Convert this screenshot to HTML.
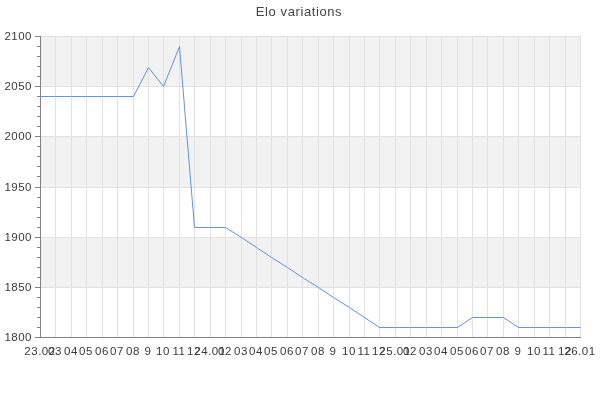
<!DOCTYPE html>
<html><head><meta charset="utf-8"><style>
html,body{margin:0;padding:0;background:#fff;}
body{width:600px;height:400px;position:relative;overflow:hidden;font-family:"Liberation Sans",sans-serif;}
svg{position:absolute;left:0;top:0;}
.t,.yl,.xl{will-change:transform;}
.t{position:absolute;left:-1px;width:600px;top:4px;text-align:center;font-size:13px;line-height:16px;color:#444;letter-spacing:0.6px;}
.yl{position:absolute;left:0;width:32px;text-align:right;font-size:11.5px;line-height:14px;color:#3a3a3a;letter-spacing:0.5px;}
.xl{position:absolute;top:344px;width:60px;text-align:center;font-size:11.5px;line-height:14px;color:#3a3a3a;letter-spacing:0.5px;}
</style></head><body>
<svg width="600" height="400" viewBox="0 0 600 400">
<g shape-rendering="crispEdges">
<rect x="41" y="37" width="540" height="49" fill="#f2f2f2"/>
<rect x="41" y="137" width="540" height="50" fill="#f2f2f2"/>
<rect x="41" y="238" width="540" height="49" fill="#f2f2f2"/>
<rect x="41" y="36" width="540" height="1" fill="#e2e2e2"/>
<rect x="41" y="86" width="540" height="1" fill="#e2e2e2"/>
<rect x="41" y="136" width="540" height="1" fill="#e2e2e2"/>
<rect x="41" y="187" width="540" height="1" fill="#e2e2e2"/>
<rect x="41" y="237" width="540" height="1" fill="#e2e2e2"/>
<rect x="41" y="287" width="540" height="1" fill="#e2e2e2"/>
<rect x="55" y="36" width="1" height="301" fill="#e2e2e2"/>
<rect x="71" y="36" width="1" height="301" fill="#e2e2e2"/>
<rect x="86" y="36" width="1" height="301" fill="#e2e2e2"/>
<rect x="102" y="36" width="1" height="301" fill="#e2e2e2"/>
<rect x="117" y="36" width="1" height="301" fill="#e2e2e2"/>
<rect x="133" y="36" width="1" height="301" fill="#e2e2e2"/>
<rect x="148" y="36" width="1" height="301" fill="#e2e2e2"/>
<rect x="163" y="36" width="1" height="301" fill="#e2e2e2"/>
<rect x="179" y="36" width="1" height="301" fill="#e2e2e2"/>
<rect x="194" y="36" width="1" height="301" fill="#e2e2e2"/>
<rect x="210" y="36" width="1" height="301" fill="#e2e2e2"/>
<rect x="225" y="36" width="1" height="301" fill="#e2e2e2"/>
<rect x="241" y="36" width="1" height="301" fill="#e2e2e2"/>
<rect x="256" y="36" width="1" height="301" fill="#e2e2e2"/>
<rect x="271" y="36" width="1" height="301" fill="#e2e2e2"/>
<rect x="287" y="36" width="1" height="301" fill="#e2e2e2"/>
<rect x="302" y="36" width="1" height="301" fill="#e2e2e2"/>
<rect x="318" y="36" width="1" height="301" fill="#e2e2e2"/>
<rect x="333" y="36" width="1" height="301" fill="#e2e2e2"/>
<rect x="349" y="36" width="1" height="301" fill="#e2e2e2"/>
<rect x="364" y="36" width="1" height="301" fill="#e2e2e2"/>
<rect x="379" y="36" width="1" height="301" fill="#e2e2e2"/>
<rect x="395" y="36" width="1" height="301" fill="#e2e2e2"/>
<rect x="410" y="36" width="1" height="301" fill="#e2e2e2"/>
<rect x="426" y="36" width="1" height="301" fill="#e2e2e2"/>
<rect x="441" y="36" width="1" height="301" fill="#e2e2e2"/>
<rect x="457" y="36" width="1" height="301" fill="#e2e2e2"/>
<rect x="472" y="36" width="1" height="301" fill="#e2e2e2"/>
<rect x="487" y="36" width="1" height="301" fill="#e2e2e2"/>
<rect x="503" y="36" width="1" height="301" fill="#e2e2e2"/>
<rect x="518" y="36" width="1" height="301" fill="#e2e2e2"/>
<rect x="534" y="36" width="1" height="301" fill="#e2e2e2"/>
<rect x="549" y="36" width="1" height="301" fill="#e2e2e2"/>
<rect x="565" y="36" width="1" height="301" fill="#e2e2e2"/>
<rect x="580" y="36" width="1" height="301" fill="#e2e2e2"/>
<rect x="40" y="36" width="1" height="302" fill="#828282"/>
<rect x="35" y="337" width="546" height="1" fill="#828282"/>
<rect x="35" y="36" width="5" height="1" fill="#828282"/>
<rect x="37" y="46" width="3" height="1" fill="#828282"/>
<rect x="37" y="56" width="3" height="1" fill="#828282"/>
<rect x="37" y="66" width="3" height="1" fill="#828282"/>
<rect x="37" y="76" width="3" height="1" fill="#828282"/>
<rect x="35" y="86" width="5" height="1" fill="#828282"/>
<rect x="37" y="96" width="3" height="1" fill="#828282"/>
<rect x="37" y="106" width="3" height="1" fill="#828282"/>
<rect x="37" y="116" width="3" height="1" fill="#828282"/>
<rect x="37" y="126" width="3" height="1" fill="#828282"/>
<rect x="35" y="136" width="5" height="1" fill="#828282"/>
<rect x="37" y="146" width="3" height="1" fill="#828282"/>
<rect x="37" y="156" width="3" height="1" fill="#828282"/>
<rect x="37" y="166" width="3" height="1" fill="#828282"/>
<rect x="37" y="176" width="3" height="1" fill="#828282"/>
<rect x="35" y="187" width="5" height="1" fill="#828282"/>
<rect x="37" y="197" width="3" height="1" fill="#828282"/>
<rect x="37" y="207" width="3" height="1" fill="#828282"/>
<rect x="37" y="217" width="3" height="1" fill="#828282"/>
<rect x="37" y="227" width="3" height="1" fill="#828282"/>
<rect x="35" y="237" width="5" height="1" fill="#828282"/>
<rect x="37" y="247" width="3" height="1" fill="#828282"/>
<rect x="37" y="257" width="3" height="1" fill="#828282"/>
<rect x="37" y="267" width="3" height="1" fill="#828282"/>
<rect x="37" y="277" width="3" height="1" fill="#828282"/>
<rect x="35" y="287" width="5" height="1" fill="#828282"/>
<rect x="37" y="297" width="3" height="1" fill="#828282"/>
<rect x="37" y="307" width="3" height="1" fill="#828282"/>
<rect x="37" y="317" width="3" height="1" fill="#828282"/>
<rect x="37" y="327" width="3" height="1" fill="#828282"/>
<rect x="35" y="337" width="5" height="1" fill="#828282"/>
</g>
<polyline points="40.5,96.5 55.5,96.5 71.5,96.5 86.5,96.5 102.5,96.5 117.5,96.5 133.5,96.5 148.5,67.5 163.5,86.5 179.5,46.5 194.5,227.5 210.5,227.5 225.5,227.5 241.5,237.5 256.5,247.5 271.5,257.5 287.5,267.5 302.5,277.5 318.5,287.5 333.5,297.5 349.5,307.5 364.5,317.5 379.5,327.5 395.5,327.5 410.5,327.5 426.5,327.5 441.5,327.5 457.5,327.5 472.5,317.5 487.5,317.5 503.5,317.5 518.5,327.5 534.5,327.5 549.5,327.5 565.5,327.5 580.5,327.5" fill="none" stroke="#5f92ea" stroke-width="1" stroke-linejoin="miter"/>
</svg>
<div class="t">Elo variations</div>
<div class="yl" style="top:29px">2100</div>
<div class="yl" style="top:79px">2050</div>
<div class="yl" style="top:129px">2000</div>
<div class="yl" style="top:180px">1950</div>
<div class="yl" style="top:230px">1900</div>
<div class="yl" style="top:280px">1850</div>
<div class="yl" style="top:330px">1800</div>
<div class="xl" style="left:10.00px">23.02</div>
<div class="xl" style="left:25.43px">03</div>
<div class="xl" style="left:40.86px">04</div>
<div class="xl" style="left:56.29px">05</div>
<div class="xl" style="left:71.71px">06</div>
<div class="xl" style="left:87.14px">07</div>
<div class="xl" style="left:102.57px">08</div>
<div class="xl" style="left:118.00px">9</div>
<div class="xl" style="left:133.43px">10</div>
<div class="xl" style="left:148.86px">11</div>
<div class="xl" style="left:164.29px">12</div>
<div class="xl" style="left:179.71px">24.01</div>
<div class="xl" style="left:195.14px">02</div>
<div class="xl" style="left:210.57px">03</div>
<div class="xl" style="left:226.00px">04</div>
<div class="xl" style="left:241.43px">05</div>
<div class="xl" style="left:256.86px">06</div>
<div class="xl" style="left:272.29px">07</div>
<div class="xl" style="left:287.71px">08</div>
<div class="xl" style="left:303.14px">9</div>
<div class="xl" style="left:318.57px">10</div>
<div class="xl" style="left:334.00px">11</div>
<div class="xl" style="left:349.43px">12</div>
<div class="xl" style="left:364.86px">25.01</div>
<div class="xl" style="left:380.29px">02</div>
<div class="xl" style="left:395.71px">03</div>
<div class="xl" style="left:411.14px">04</div>
<div class="xl" style="left:426.57px">05</div>
<div class="xl" style="left:442.00px">06</div>
<div class="xl" style="left:457.43px">07</div>
<div class="xl" style="left:472.86px">08</div>
<div class="xl" style="left:488.29px">9</div>
<div class="xl" style="left:503.71px">10</div>
<div class="xl" style="left:519.14px">11</div>
<div class="xl" style="left:534.57px">12</div>
<div class="xl" style="left:550.00px">26.01</div>
</body></html>
